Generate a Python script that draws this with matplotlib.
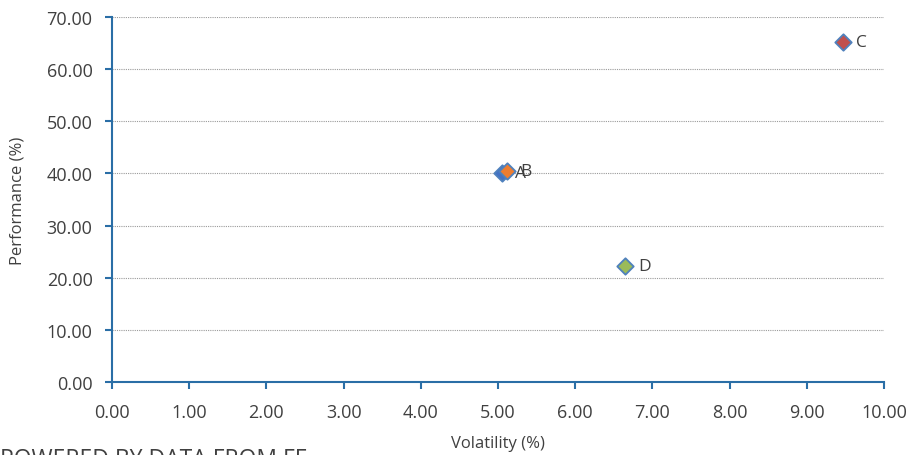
import matplotlib
matplotlib.use('Agg')
import matplotlib.pyplot as plt

# data
names = ['A', 'B', 'C', 'D']
volatility = [5.05, 5.12, 9.47, 6.65]
performance = [40.1, 40.5, 65.2, 22.3]
fills = ['#4472C4', '#ED7D31', '#C0504D', '#9BBB59']

xticks = [0, 1, 2, 3, 4, 5, 6, 7, 8, 9, 10]
yticks = [0, 10, 20, 30, 40, 50, 60, 70]

plt.rcParams['font.family'] = ['Open Sans', 'DejaVu Sans']
txt = '#404040'
axis_blue = '#2A6EA6'

fig = plt.figure(figsize=(9.08, 4.56), dpi=100)
ax = fig.add_axes([0.1233, 0.16, 0.8503, 0.8005])

for x, y, c, n in zip(volatility, performance, fills, names):
    ax.scatter(x, y, marker='D', s=70, facecolor=c, edgecolor='#4F81BD',
               linewidth=1.3, zorder=3, clip_on=False)
    ax.annotate(n, (x, y), xytext=(9.5, 0), textcoords='offset points',
                va='center', ha='left', fontsize=12.5, color=txt)

ax.set_xlim(0, 10)
ax.set_ylim(0, 70)
ax.set_xticks(xticks)
ax.set_yticks(yticks)
ax.set_xticklabels(['%.2f' % v for v in xticks])
ax.set_yticklabels(['%.2f' % v for v in yticks])

ax.grid(axis='y', linestyle=(0, (1, 1)), color='#9A9A9A', linewidth=0.8)
ax.set_axisbelow(True)
for s in ['top', 'right']:
    ax.spines[s].set_visible(False)
for s in ['left', 'bottom']:
    ax.spines[s].set_color(axis_blue)
    ax.spines[s].set_linewidth(1.5)
ax.tick_params(colors=axis_blue, labelcolor=txt, labelsize=13, length=5, width=1.5)
ax.tick_params(axis='x', pad=10)
ax.tick_params(axis='y', pad=9)

ax.set_xlabel('Volatility (%)', fontsize=12, color=txt, labelpad=10)
ax.set_ylabel('Performance (%)', fontsize=12, color=txt, labelpad=15)

fig.text(0.0, -0.035, 'POWERED BY DATA FROM FE', fontsize=16.5, color=txt,
         ha='left', va='bottom')

fig.savefig('out.png', dpi=100)
